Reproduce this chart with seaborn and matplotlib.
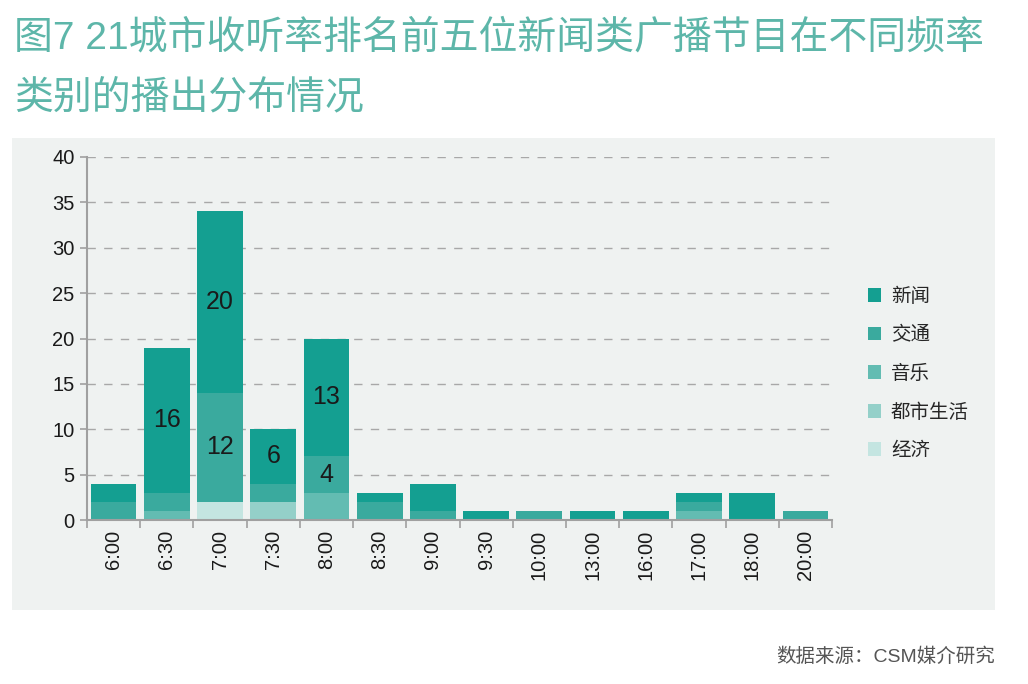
import pandas as pd
import matplotlib.pyplot as plt
import seaborn as sns
from matplotlib.patches import Rectangle, Patch
from matplotlib.ticker import FixedLocator

# 数据
times = ["6:00", "6:30", "7:00", "7:30", "8:00", "8:30", "9:00",
         "9:30", "10:00", "13:00", "16:00", "17:00", "18:00", "20:00"]
xinwen   = [2, 16, 20, 6, 13, 1, 3, 1, 0, 1, 1, 1, 3, 0]
jiaotong = [2, 2, 12, 2, 4, 2, 1, 0, 1, 0, 0, 1, 0, 1]
yinyue   = [0, 1, 0, 0, 3, 0, 0, 0, 0, 0, 0, 1, 0, 0]
dushi    = [0, 0, 0, 2, 0, 0, 0, 0, 0, 0, 0, 0, 0, 0]
jingji   = [0, 0, 2, 0, 0, 0, 0, 0, 0, 0, 0, 0, 0, 0]

categories = ["新闻", "交通", "音乐", "都市生活", "经济"]
colores = ["#149f91", "#3aaa9e", "#63bcb2", "#94d0c9", "#c4e5e1"]

# etiquetas de valores: (serie, categoria)
etiquetas = [("交通", "7:00"), ("交通", "8:00"),
             ("新闻", "6:30"), ("新闻", "7:00"), ("新闻", "7:30"), ("新闻", "8:00")]

df = pd.DataFrame({"时间": times, "新闻": xinwen, "交通": jiaotong,
                   "音乐": yinyue, "都市生活": dushi, "经济": jingji})

# apilado: de abajo hacia arriba 经济, 都市生活, 音乐, 交通, 新闻
orden_pila = ["经济", "都市生活", "音乐", "交通", "新闻"]
acum = df[orden_pila].cumsum(axis=1)
base = acum - df[orden_pila]

sns.set_theme(style="white")
plt.rcParams['font.family'] = ['Liberation Sans', 'Noto Sans CJK SC', 'DejaVu Sans']

fig = plt.figure(figsize=(10.28, 6.84), dpi=100)
fig.patch.set_facecolor("white")
bg = "#eff2f1"
fig.patches.append(Rectangle((12 / 1028, 1 - 610 / 684), 983 / 1028, 472 / 684,
                             transform=fig.transFigure, facecolor=bg,
                             edgecolor="none", zorder=-5))

ax = fig.add_axes([87 / 1028, 1 - 520 / 684, (832 - 87) / 1028, (520 - 157) / 684])
ax.set_facecolor(bg)

col_map = dict(zip(categories, colores))
for serie in reversed(orden_pila):
    d = pd.DataFrame({"时间": times, "v": acum[serie]})
    sns.barplot(data=d, x="时间", y="v", order=times, color=col_map[serie],
                saturation=1, width=0.86, ax=ax, zorder=3, linewidth=0)

for serie, t in etiquetas:
    i = times.index(t)
    y = base.loc[i, serie] + df.loc[i, serie] / 2
    ax.text(i, y, str(df.loc[i, serie]), ha="center", va="center",
            fontsize=18, color="#1a1a1a", zorder=5)

ax.set_ylim(0, 40)
ax.set_xlim(-0.5, len(times) - 0.5)
ax.set_yticks(range(0, 41, 5))
ax.yaxis.grid(True, linestyle=(0, (6, 6)), color="#a8a8a8", linewidth=1, zorder=1)
ax.set_axisbelow(True)
ax.set_xlabel("")
ax.set_ylabel("")
for s in ["top", "right"]:
    ax.spines[s].set_visible(False)
for s in ["left", "bottom"]:
    ax.spines[s].set_color("#a0a0a0")
    ax.spines[s].set_linewidth(1.5)
    ax.spines[s].set_zorder(4)
ax.tick_params(axis="y", labelsize=14.5, colors="#a0a0a0", labelcolor="#1a1a1a",
               length=5, width=1.2, left=True, pad=4)
ax.tick_params(axis="x", which="major", length=0, labelsize=14.5,
               labelcolor="#1a1a1a", rotation=90, pad=7)
ax.xaxis.set_minor_locator(FixedLocator([i - 0.5 for i in range(len(times) + 1)]))
ax.tick_params(axis="x", which="minor", length=6, width=1.2, colors="#a0a0a0",
               bottom=True)

# leyenda
handles = [Patch(facecolor=c, edgecolor="none", label=l) for l, c in zip(categories, colores)]
fig.legend(handles=handles, loc="upper left", bbox_to_anchor=(850 / 1028, 1 - 270 / 684),
           frameon=False, fontsize=14, handlelength=0.7, handleheight=0.7,
           handletextpad=0.5, labelspacing=1.05)

# título
fig.text(14 / 1028, 1 - 48 / 684, "图7 21城市收听率排名前五位新闻类广播节目在不同频率",
         fontsize=28, color="#5db6a9", va="baseline", ha="left", fontweight="light")
fig.text(14 / 1028, 1 - 108 / 684, "类别的播出分布情况",
         fontsize=28, color="#5db6a9", va="baseline", ha="left", fontweight="light")

fig.text(995 / 1028, 1 - 662 / 684, "数据来源：CSM媒介研究",
         fontsize=14, color="#555555", ha="right", va="baseline")

fig.savefig("out.png", dpi=100)
